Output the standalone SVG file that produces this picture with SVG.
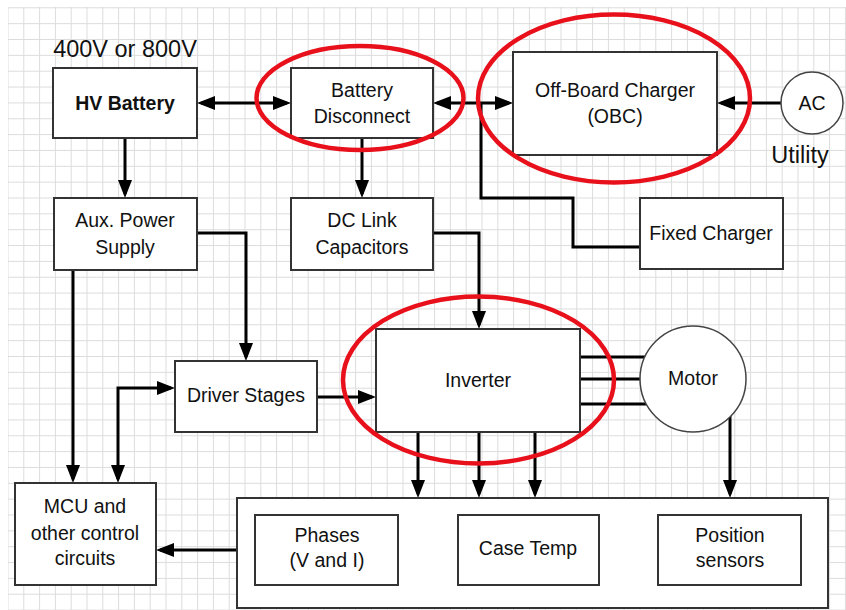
<svg xmlns="http://www.w3.org/2000/svg" width="846" height="610" viewBox="0 0 846 610">
<defs>
  <pattern id="grid" x="7.5" y="7.3" width="15.8" height="15.85" patternUnits="userSpaceOnUse">
    <path d="M0.5,0 V15.85 M0,0.5 H15.8" fill="none" stroke="#dcdcdc" stroke-width="1"/>
  </pattern>
  <marker id="arr" markerUnits="userSpaceOnUse" markerWidth="18" markerHeight="14" refX="14" refY="7" orient="auto-start-reverse" viewBox="0 0 18 14">
    <path d="M0,0 L18,7 L0,14 z" fill="#000"/>
  </marker>
  <style>
    .box{fill:#fff;stroke:#333;stroke-width:2}
    .circ{fill:#fff;stroke:#444;stroke-width:1.5}
    .ln{fill:none;stroke:#000;stroke-width:3}
    .red{fill:none;stroke:#e8101a;stroke-width:4.5}
    text{font-family:"Liberation Sans",Arial,sans-serif;font-size:19.5px;fill:#111;text-anchor:middle}
    .big{font-size:23.5px}
    .b{font-weight:bold}
  </style>
</defs>
<rect x="0" y="0" width="846" height="610" fill="#fff"/>
<rect x="8" y="7" width="838" height="603" fill="url(#grid)"/>

<g id="connectors">
  <path class="ln" d="M201,103 H287" marker-start="url(#arr)" marker-end="url(#arr)"/>
  <path class="ln" d="M437,103 H509" marker-start="url(#arr)" marker-end="url(#arr)"/>
  <path class="ln" d="M781,103 H721" marker-end="url(#arr)"/>
  <path class="ln" d="M481,103 V198 H573 V247 H640"/>
  <path class="ln" d="M125,138 V194" marker-end="url(#arr)"/>
  <path class="ln" d="M362,138 V194" marker-end="url(#arr)"/>
  <path class="ln" d="M433,233 H479 V325" marker-end="url(#arr)"/>
  <path class="ln" d="M197,233 H246 V357" marker-end="url(#arr)"/>
  <path class="ln" d="M73,270 V479" marker-end="url(#arr)"/>
  <path class="ln" d="M118,479 V388 H171" marker-start="url(#arr)" marker-end="url(#arr)"/>
  <path class="ln" d="M317,397 H372" marker-end="url(#arr)"/>
  <path class="ln" d="M580,357 H646 M580,379 H641 M580,404 H647"/>
  <path class="ln" d="M418,432 V494" marker-end="url(#arr)"/>
  <path class="ln" d="M479,432 V494" marker-end="url(#arr)"/>
  <path class="ln" d="M535,432 V494" marker-end="url(#arr)"/>
  <path class="ln" d="M730,416 V494" marker-end="url(#arr)"/>
  <path class="ln" d="M237,550 H160" marker-end="url(#arr)"/>
</g>

<text class="big" x="125" y="57">400V or 800V</text>

<g id="hv-battery">
  <rect class="box" x="53" y="68" width="144" height="70"/>
  <text class="b" x="125" y="110">HV Battery</text>
</g>
<g id="battery-disconnect">
  <rect class="box" x="291" y="68" width="142" height="70"/>
  <text x="362" y="97">Battery</text>
  <text x="362" y="123">Disconnect</text>
</g>
<g id="obc">
  <rect class="box" x="513" y="52" width="204" height="103"/>
  <text x="615" y="97">Off-Board Charger</text>
  <text x="615" y="123">(OBC)</text>
</g>
<g id="ac-utility">
  <circle class="circ" cx="812" cy="103" r="31"/>
  <text x="812" y="110">AC</text>
  <text class="big" x="800" y="163">Utility</text>
</g>
<g id="fixed-charger">
  <rect class="box" x="640" y="198" width="143" height="71"/>
  <text x="711" y="240">Fixed Charger</text>
</g>
<g id="aux-power">
  <rect class="box" x="54" y="198" width="143" height="72"/>
  <text x="125" y="227">Aux. Power</text>
  <text x="125" y="254">Supply</text>
</g>
<g id="dc-link">
  <rect class="box" x="291" y="198" width="142" height="72"/>
  <text x="362" y="227">DC Link</text>
  <text x="362" y="254">Capacitors</text>
</g>
<g id="driver-stages">
  <rect class="box" x="175" y="361" width="142" height="71"/>
  <text x="246" y="402">Driver Stages</text>
</g>
<g id="inverter">
  <rect class="box" x="376" y="329" width="204" height="103"/>
  <text x="478" y="387">Inverter</text>
</g>
<g id="motor">
  <circle class="circ" cx="693" cy="379" r="53"/>
  <text x="693" y="385">Motor</text>
</g>
<g id="mcu">
  <rect class="box" x="15" y="483" width="141" height="102"/>
  <text x="85" y="513">MCU and</text>
  <text x="85" y="540">other control</text>
  <text x="85" y="565">circuits</text>
</g>
<g id="sensors">
  <rect class="box" x="237" y="498" width="591" height="110"/>
</g>
<g id="phases">
  <rect class="box" x="255" y="515" width="143" height="70"/>
  <text x="327" y="542">Phases</text>
  <text x="327" y="567">(V and I)</text>
</g>
<g id="case-temp">
  <rect class="box" x="458" y="515" width="141" height="70"/>
  <text x="528" y="555">Case Temp</text>
</g>
<g id="position-sensors">
  <rect class="box" x="658" y="515" width="143" height="70"/>
  <text x="730" y="542">Position</text>
  <text x="730" y="567">sensors</text>
</g>

<g id="highlights">
  <ellipse class="red" cx="360" cy="98" rx="103.5" ry="52"/>
  <ellipse class="red" cx="614" cy="98.5" rx="136" ry="84"/>
  <ellipse class="red" cx="478.5" cy="380" rx="135.5" ry="83.5"/>
</g>
</svg>
